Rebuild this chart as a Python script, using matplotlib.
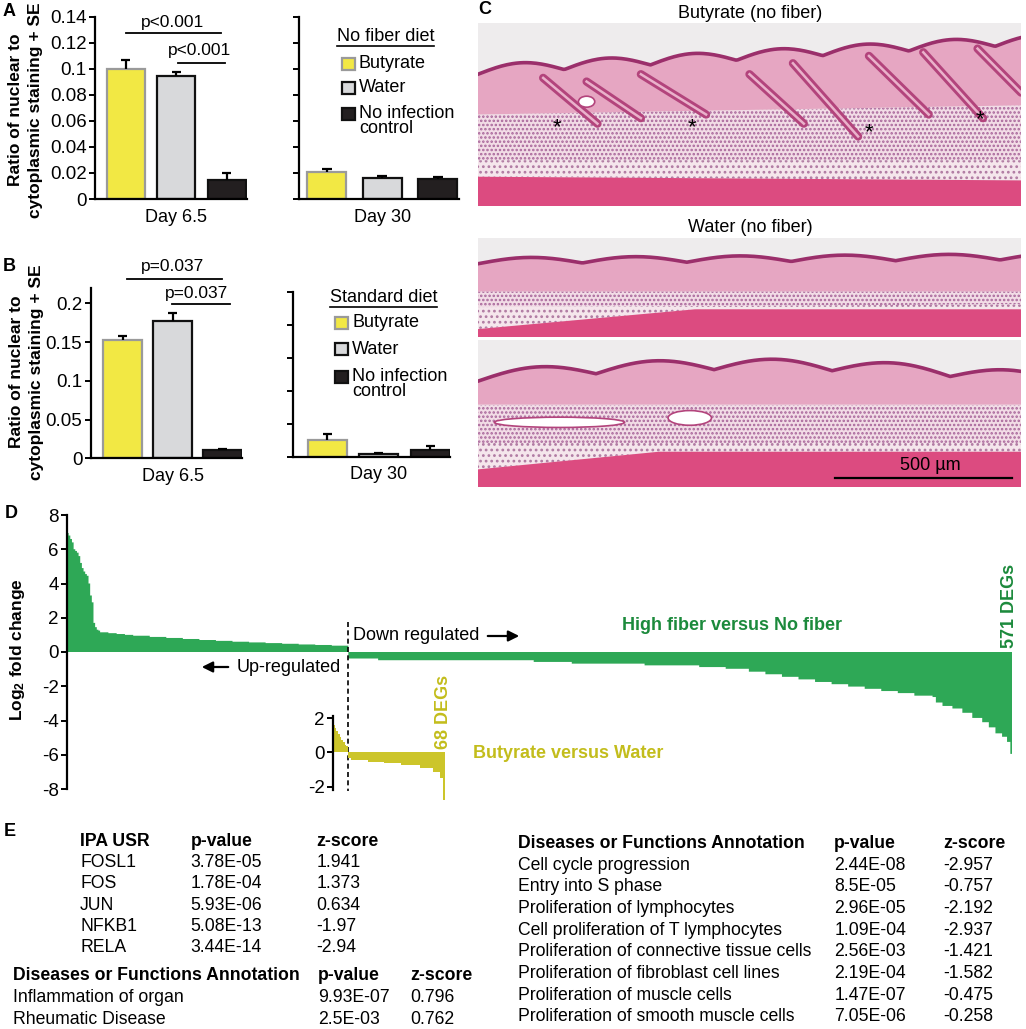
import numpy as np
import matplotlib
matplotlib.use('Agg')
import matplotlib.pyplot as plt
import matplotlib.patches as mpatches
from matplotlib.lines import Line2D

plt.rcParams['font.family'] = ['Liberation Sans', 'DejaVu Sans']
plt.rcParams['axes.unicode_minus'] = False
plt.rcParams['mathtext.default'] = 'regular'
plt.rcParams['hatch.linewidth'] = 1.2

# ---- data ----
groups = ['Butyrate', 'Water', 'No infection\ncontrol']
bar_colors = ['#f2e844', '#d8d9db', '#231f20']
bar_edges = ['#9a9a9a', '#111111', '#111111']

a_day65 = [0.1000, 0.0945, 0.0146]
a_day65_se = [0.0067, 0.0033, 0.0051]
a_day30 = [0.0207, 0.0159, 0.0154]
a_day30_se = [0.0021, 0.0020, 0.0017]

b_day65 = [0.1527, 0.1776, 0.0108]
b_day65_se = [0.0056, 0.0094, 0.0012]
b_day30 = [0.0253, 0.0045, 0.0101]
b_day30_se = [0.0085, 0.0015, 0.0061]

# waterfall, high fiber vs no fiber (571 DEGs), read as step levels + counts
hf_levels = [6.95, 6.8, 6.6, 6.4, 6.0, 5.9, 5.8, 5.6, 5.2, 4.9, 4.7, 4.55, 4.45,
             4.0, 3.3, 2.9, 1.7, 1.45, 1.3, 1.25,
             1.15, 1.1, 1.05, 1.0,
             0.95, 0.88, 0.82, 0.76, 0.7, 0.65, 0.6, 0.56, 0.52, 0.48, 0.44, 0.41, 0.37,
             -0.38, -0.48, -0.58, -0.68, -0.78, -0.88, -0.98,
             -1.15, -1.3, -1.45, -1.6, -1.75, -1.88, -2.02, -2.15, -2.28, -2.4, -2.55,
             -2.63, -2.95, -3.15, -3.3, -3.55, -3.85, -4.1, -4.4, -4.75, -4.95, -5.25, -5.95]
hf_counts = [1] * 20 + [5, 5, 5, 5] + [10] * 13 + \
            [18, 94, 23, 44, 33, 16, 14] + \
            [10, 10, 10, 10, 10, 10, 10, 10, 10, 10, 11] + \
            [2, 4, 6, 6, 6, 6, 4, 4, 4, 3, 2, 1]
hf_n_up = 170

# butyrate vs water (68 DEGs)
bw_levels = [1.6, 1.45, 1.25, 1.1, 0.9, 0.75, 0.6, 0.45, 0.35,
             -0.35, -0.45, -0.55, -0.63, -0.72, -0.9, -1.15, -1.5, -2.8]
bw_counts = [1] * 9 + [2, 10, 10, 10, 12, 8, 4, 2, 1]

usr_names = ['FOSL1', 'FOS', 'JUN', 'NFKB1', 'RELA']
usr_p = ['3.78E-05', '1.78E-04', '5.93E-06', '5.08E-13', '3.44E-14']
usr_z = ['1.941', '1.373', '0.634', '-1.97', '-2.94']

bw_func = ['Inflammation of organ', 'Rheumatic Disease']
bw_func_p = ['9.93E-07', '2.5E-03']
bw_func_z = ['0.796', '0.762']

hf_func = ['Cell cycle progression', 'Entry into S phase', 'Proliferation of lymphocytes',
           'Cell proliferation of T lymphocytes', 'Proliferation of connective tissue cells',
           'Proliferation of fibroblast cell lines', 'Proliferation of muscle cells',
           'Proliferation of smooth muscle cells']
hf_func_p = ['2.44E-08', '8.5E-05', '2.96E-05', '1.09E-04', '2.56E-03', '2.19E-04',
             '1.47E-07', '7.05E-06']
hf_func_z = ['-2.957', '-0.757', '-2.192', '-2.937', '-1.421', '-1.582', '-0.475', '-0.258']

# ---- layout helpers (pixel coords, origin top-left) ----
W, H = 1026, 1029
fig = plt.figure(figsize=(W / 100, H / 100), dpi=100)


def box(x0, y0, x1, y1):
    return [x0 / W, 1 - y1 / H, (x1 - x0) / W, (y1 - y0) / H]


def ftext(x, y, s, **kw):
    kw.setdefault('fontsize', 13)
    kw.setdefault('va', 'center')
    return fig.text(x / W, 1 - y / H, s, **kw)


def fline(x0, x1, y0, y1, **kw):
    fig.add_artist(Line2D([x0 / W, x1 / W], [1 - y0 / H, 1 - y1 / H],
                          transform=fig.transFigure, **kw))


def frect(x0, y0, x1, y1, **kw):
    fig.add_artist(mpatches.Rectangle((x0 / W, 1 - y1 / H), (x1 - x0) / W, (y1 - y0) / H,
                                      transform=fig.transFigure, **kw))


def farrow(x0, y0, x1, y1):
    fig.add_artist(mpatches.FancyArrowPatch((x0 / W, 1 - y0 / H), (x1 / W, 1 - y1 / H),
                                            transform=fig.transFigure, arrowstyle='-|>',
                                            mutation_scale=16, lw=1.6, color='black'))


def bar_panel(rect, vals, se, ylim, xlim, width, label, ticks, labels=True):
    ax = fig.add_axes(box(*rect))
    x = np.arange(len(vals))
    ax.bar(x, vals, width=width, color=bar_colors, edgecolor=bar_edges, linewidth=1.6, zorder=2)
    top = np.array(vals) + np.array(se)
    ax.vlines(x, vals, top, color='black', lw=1.6, zorder=3)
    ax.hlines(top, x - 0.09, x + 0.09, color='black', lw=1.6, zorder=3)
    ax.set_xlim(*xlim)
    ax.set_ylim(*ylim)
    for s in ['top', 'right']:
        ax.spines[s].set_visible(False)
    ax.spines['left'].set_linewidth(1.6)
    ax.spines['bottom'].set_linewidth(1.6)
    ax.set_yticks(ticks)
    if labels:
        ax.set_yticklabels(['%g' % t for t in ticks])
    else:
        ax.set_yticklabels([])
    ax.tick_params(axis='y', length=4, width=1.4, labelsize=13.5, pad=2)
    ax.set_xticks([1])
    ax.set_xticklabels([label])
    ax.tick_params(axis='x', length=0, labelsize=13, pad=7)
    ax.patch.set_alpha(0)
    return ax


def legend_block(x, ytitle, title, ysq, underline_y, x_end):
    ftext(x, ytitle, title, ha='left')
    fline(x, x_end, underline_y, underline_y, color='black', lw=1.2)
    for i, yy in enumerate(ysq):
        frect(x + 5, yy - 6, x + 18, yy + 6, facecolor=bar_colors[i], edgecolor=bar_edges[i], lw=1.6)
    ftext(x + 22, ysq[0], 'Butyrate', ha='left')
    ftext(x + 22, ysq[1], 'Water', ha='left')
    ftext(x + 22, ysq[2] + 7, groups[2], ha='left', linespacing=0.85)


def ratio_label(xc, yc):
    # two centred lines of the rotated y label
    ftext(xc - 10, yc, 'Ratio of nuclear to', ha='center', rotation=90,
          fontsize=12.5, fontweight='bold')
    ftext(xc + 10, yc, 'cytoplasmic staining + SE', ha='center', rotation=90,
          fontsize=12.5, fontweight='bold')


# ---- panel A ----
bar_panel((95, 16.7, 247, 199), a_day65, a_day65_se, (0, 0.14), (-0.61, 2.4), 0.76,
          'Day 6.5', np.arange(0, 0.141, 0.02))
bar_panel((299, 16.7, 459, 199), a_day30, a_day30_se, (0, 0.14), (-0.5, 2.38), 0.7,
          'Day 30', np.arange(0, 0.141, 0.02), labels=False)
fline(126, 221, 33.3, 33.3, color='black', lw=1.3)
ftext(173, 22, 'p<0.001', ha='center', fontsize=12.5)
fline(178, 225, 62.7, 62.7, color='black', lw=1.3)
ftext(200, 51, 'p<0.001', ha='center', fontsize=12.5)
legend_block(337, 36.5, 'No fiber diet', [63.5, 88, 114], 46, 434)
ratio_label(26, 110)
ftext(9, 12, 'A', ha='center', fontsize=13, fontweight='bold')

# ---- panel B ----
bar_panel((90.7, 287.8, 242, 458.3), b_day65, b_day65_se, (0, 0.22), (-0.64, 2.39), 0.78,
          'Day 6.5', np.arange(0, 0.201, 0.05))
bar_panel((292.7, 291.7, 450, 456.7), b_day30, b_day30_se, (0, 0.25), (-0.67, 2.38), 0.76,
          'Day 30', np.arange(0, 0.251, 0.05), labels=False)
fline(127, 222, 279, 279, color='black', lw=1.3)
ftext(173, 267, 'p=0.037', ha='center', fontsize=12.5)
fline(172, 230, 304, 304, color='black', lw=1.3)
ftext(197, 293, 'p=0.037', ha='center', fontsize=12.5)
legend_block(330, 298, 'Standard diet', [323, 349, 377], 306.5, 437)
ratio_label(27, 372)
ftext(9, 266, 'B', ha='center', fontsize=13, fontweight='bold')

# ---- panel C (histology, drawn schematically) ----
xs = np.linspace(0, 1, 300)


def skin(rect, top, derm, sub, musc, follicles=(), holes=()):
    ax = fig.add_axes(box(*rect))
    ax.set_xlim(0, 1)
    ax.set_ylim(0, 1)
    ax.axis('off')
    ax.add_patch(mpatches.Rectangle((0, 0), 1, 1, color='#eeeced', zorder=0))
    ax.fill_between(xs, sub, derm, facecolor='#f2dce6', hatch='....', edgecolor='#a8659a',
                    linewidth=0, zorder=1)
    ax.fill_between(xs, musc, sub, facecolor='#f5e6ec', hatch='...', edgecolor='#b07aa2',
                    linewidth=0, zorder=1)
    ax.fill_between(xs, derm, top, facecolor='#e6a6c2', zorder=2)
    ax.fill_between(xs, 0, musc, facecolor='#dc4b80', zorder=3)
    ax.plot(xs, top, color='#9b2f6b', lw=2.6, zorder=4)
    for (fx0, fy0, fx1, fy1) in follicles:
        ax.plot([fx0, fx1], [fy0, fy1], color='#b3447c', lw=6, solid_capstyle='round', zorder=3)
        ax.plot([fx0, fx1], [fy0, fy1], color='#eab2cb', lw=1.8, zorder=3)
    for (hx, hy, hw, hh) in holes:
        ax.add_patch(mpatches.Ellipse((hx, hy), hw, hh, facecolor='white',
                                      edgecolor='#b3447c', lw=1.2, zorder=3))
    return ax


frac6 = (xs * 6.3) % 1
top1 = 0.72 + 0.16 * xs + 0.05 * np.sin(np.pi * frac6)
img1 = skin((478, 23, 1021, 206), top1, 0.5 + 0.05 * xs, 0.25, 0.16 - 0.02 * xs,
            follicles=[(0.12, 0.7, 0.22, 0.45), (0.2, 0.68, 0.3, 0.48), (0.3, 0.72, 0.42, 0.5),
                       (0.5, 0.72, 0.6, 0.45), (0.58, 0.78, 0.7, 0.38), (0.72, 0.82, 0.83, 0.5),
                       (0.82, 0.84, 0.93, 0.48), (0.92, 0.86, 1.0, 0.62)],
            holes=[(0.2, 0.57, 0.03, 0.06)])
for ax_x, ax_y in [(0.145, 0.43), (0.395, 0.43), (0.72, 0.40), (0.925, 0.47)]:
    img1.text(ax_x, ax_y, '*', fontsize=16, ha='center', va='center', zorder=5)

frac5 = (xs * 5.2) % 1
top2 = 0.74 + 0.04 * xs + 0.06 * np.sin(np.pi * frac5)
skin((478, 238, 1021, 337), top2, 0.46, 0.3 + 0.03 * xs, 0.08 + 0.2 * np.clip(xs * 2.5, 0, 1))

frac4 = (xs * 4.6) % 1
top3 = 0.72 + 0.08 * np.sin(np.pi * xs) + 0.07 * np.sin(np.pi * frac4)
skin((478, 340, 1021, 487), top3, 0.56, 0.3, 0.12 + 0.12 * np.clip(xs * 3, 0, 1),
     holes=[(0.15, 0.44, 0.24, 0.07), (0.39, 0.47, 0.08, 0.1)])

ftext(750, 14, 'Butyrate (no fiber)', ha='center', fontsize=13)
ftext(750, 228, 'Water (no fiber)', ha='center', fontsize=13)
fline(835, 1012, 478, 478, color='black', lw=1.6)
ftext(930, 466, '500 µm', ha='center', fontsize=13)
ftext(485, 10, 'C', ha='center', fontsize=13, fontweight='bold')

# ---- panel D ----
green = '#2ea856'
green_txt = '#1c8a3c'
yellow = '#ccc52a'
yellow_txt = '#c3bd1c'

hf_vals = np.repeat(hf_levels, hf_counts)
bw_vals = np.repeat(bw_levels, bw_counts)

axd = fig.add_axes(box(67, 515, 1012, 789))
axd.stairs(hf_vals, np.arange(len(hf_vals) + 1), baseline=0, fill=True, color=green, lw=0)
axd.set_xlim(0, len(hf_vals))
axd.set_ylim(-8, 8)
for s in ['top', 'right', 'bottom']:
    axd.spines[s].set_visible(False)
axd.spines['left'].set_linewidth(1.6)
axd.set_xticks([])
axd.set_yticks(np.arange(-8, 9, 2))
axd.tick_params(axis='y', length=4, width=1.4, labelsize=13.5, pad=2)
axd.plot([hf_n_up, hf_n_up], [1.75, -8.1], color='black', lw=1.2, ls=(0, (3, 2)), clip_on=False)
axd.patch.set_alpha(0)

axi = fig.add_axes(box(333, 716, 445, 790))
axi.stairs(bw_vals, np.arange(len(bw_vals) + 1), baseline=0, fill=True, color=yellow, lw=0,
           clip_on=False)
axi.set_xlim(0, len(bw_vals))
axi.set_ylim(-2.19, 2.13)
for s in ['top', 'right', 'bottom']:
    axi.spines[s].set_visible(False)
axi.spines['left'].set_linewidth(1.6)
axi.set_xticks([])
axi.set_yticks([-2, 0, 2])
axi.tick_params(axis='y', length=4, width=1.4, labelsize=13.5, pad=2)
axi.patch.set_alpha(0)

ftext(18, 650, 'Log$_2$ fold change', ha='center', rotation=90, fontsize=12.5, fontweight='bold')
ftext(11, 514, 'D', ha='center', fontsize=13, fontweight='bold')
ftext(353, 636, 'Down regulated', ha='left', fontsize=13)
farrow(485, 636, 522, 636)
ftext(237, 667, 'Up-regulated', ha='left', fontsize=13)
farrow(231, 667, 199, 667)
ftext(732, 625, 'High fiber versus No fiber', ha='center', fontsize=13, fontweight='bold',
      color=green_txt)
ftext(1009, 606, '571 DEGs', ha='center', rotation=90, fontsize=13, fontweight='bold',
      color=green_txt)
ftext(444, 712, '68 DEGs', ha='center', rotation=90, fontsize=13, fontweight='bold',
      color=yellow_txt)
ftext(473, 753, 'Butyrate versus Water', ha='left', fontsize=13, fontweight='bold',
      color=yellow_txt)

# ---- panel E ----
fs_e = 12.7
ftext(10, 832, 'E', ha='center', fontsize=13, fontweight='bold')
ftext(80, 841, 'IPA USR', ha='left', fontsize=fs_e, fontweight='bold')
ftext(190.7, 841, 'p-value', ha='left', fontsize=fs_e, fontweight='bold')
ftext(316.7, 841, 'z-score', ha='left', fontsize=fs_e, fontweight='bold')
for i, (n, p, z) in enumerate(zip(usr_names, usr_p, usr_z)):
    yy = 862.7 + 21.3 * i
    ftext(80, yy, n, ha='left', fontsize=fs_e)
    ftext(190.7, yy, p, ha='left', fontsize=fs_e)
    ftext(316.7, yy, z, ha='left', fontsize=fs_e)

ftext(12.7, 976, 'Diseases or Functions Annotation', ha='left', fontsize=fs_e, fontweight='bold')
ftext(318.3, 976, 'p-value', ha='left', fontsize=fs_e, fontweight='bold')
ftext(410, 976, 'z-score', ha='left', fontsize=fs_e, fontweight='bold')
for i, (n, p, z) in enumerate(zip(bw_func, bw_func_p, bw_func_z)):
    yy = 997.7 + 21.6 * i
    ftext(12.7, yy, n, ha='left', fontsize=fs_e)
    ftext(318.3, yy, p, ha='left', fontsize=fs_e)
    ftext(410, yy, z, ha='left', fontsize=fs_e)

ftext(518.3, 843, 'Diseases or Functions Annotation', ha='left', fontsize=fs_e, fontweight='bold')
ftext(834.3, 843, 'p-value', ha='left', fontsize=fs_e, fontweight='bold')
ftext(943.3, 843, 'z-score', ha='left', fontsize=fs_e, fontweight='bold')
for i, (n, p, z) in enumerate(zip(hf_func, hf_func_p, hf_func_z)):
    yy = 865 + 21.7 * i
    ftext(518.3, yy, n, ha='left', fontsize=fs_e)
    ftext(834.3, yy, p, ha='left', fontsize=fs_e)
    ftext(943.3, yy, z, ha='left', fontsize=fs_e)

fig.savefig('out.png', dpi=100, facecolor='white')
